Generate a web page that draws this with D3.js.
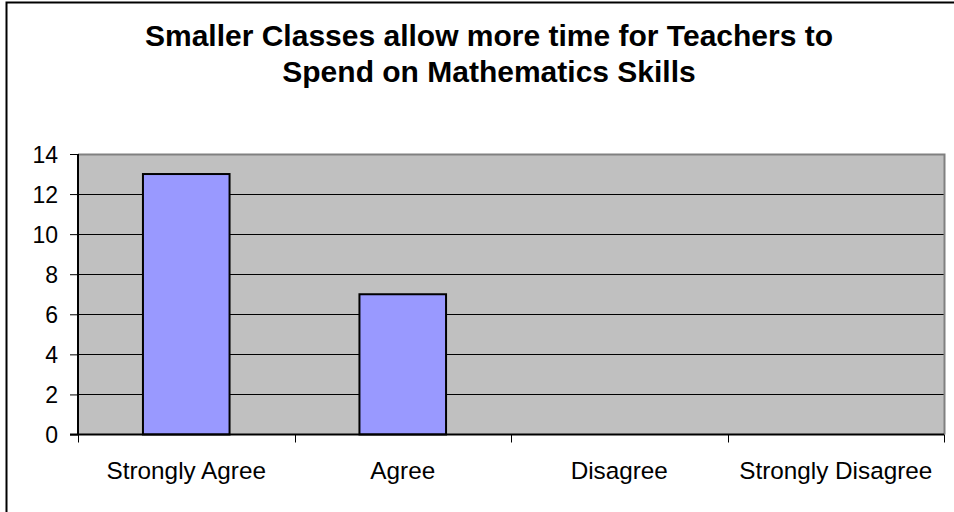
<!DOCTYPE html>
<html><head><meta charset="utf-8">
<script src="https://cdn.jsdelivr.net/npm/d3@7"></script>
<style>body{margin:0;background:#fff}svg{display:block}text{font-family:"Liberation Sans",Arial,sans-serif}</style>
</head><body>
<svg id="c" width="954" height="512"></svg>
<script>
const categories = ["Strongly Agree", "Agree", "Disagree", "Strongly Disagree"];
const values = [13, 7, 0, 0];
const yTicks = [0, 2, 4, 6, 8, 10, 12, 14];
const titleLines = ["Smaller Classes allow more time for Teachers to", "Spend on Mathematics Skills"];

const svg = d3.select("#c");
const L = 78, R = 944, T = 154, B = 434.5;

svg.append("rect").attr("x", 6.5).attr("y", 2.5).attr("width", 1000).attr("height", 600)
  .attr("fill", "#fff").attr("stroke", "#000").attr("stroke-width", 2);

const x = d3.scaleBand().domain(categories).range([L, R]).paddingInner(0).paddingOuter(0);
const y = d3.scaleLinear().domain([0, 14]).range([B, T]);

svg.append("rect").attr("x", L).attr("y", T).attr("width", R - L).attr("height", B - T).attr("fill", "#C0C0C0");

// gridlines
svg.append("g").selectAll("line").data(yTicks.filter(d => d > 0 && d < 14)).join("line")
  .attr("x1", L).attr("x2", R).attr("y1", d => Math.round(y(d)) + 0.5).attr("y2", d => Math.round(y(d)) + 0.5)
  .attr("stroke", "#000").attr("stroke-width", 1);

// plot border top/right
svg.append("path").attr("d", `M${L},${T + 0.5}H${R + 0.5}V${B}`).attr("fill", "none").attr("stroke", "#808080").attr("stroke-width", 2);

// bars
const bw = x.bandwidth() * 0.4;
svg.append("g").selectAll("rect").data(values.map((v, i) => ({c: categories[i], v})).filter(d => d.v > 0)).join("rect")
  .attr("x", d => x(d.c) + (x.bandwidth() - bw) / 2).attr("width", bw)
  .attr("y", d => y(d.v)).attr("height", d => y(0) - y(d.v))
  .attr("fill", "#9999FF").attr("stroke", "#000").attr("stroke-width", 2);

// y axis
const yAxis = d3.axisLeft(y).tickValues(yTicks).tickSize(8).tickPadding(12);
const gy = svg.append("g").attr("transform", `translate(${L},0)`).call(yAxis);
gy.select(".domain").attr("stroke", "#000").attr("stroke-width", 2).attr("d", `M0,${T}V${B}`);
gy.selectAll(".tick line").attr("stroke", "#000");
gy.selectAll(".tick text").attr("font-size", 23).attr("fill", "#000").attr("dy", "0.36em")
  .attr("font-family", "Liberation Sans, Arial, sans-serif");

// x axis
const gx = svg.append("g").attr("transform", `translate(0,${B})`);
gx.append("line").attr("x1", L - 8).attr("x2", R).attr("y1", 0).attr("y2", 0).attr("stroke", "#000").attr("stroke-width", 2);
const bounds = categories.map(c => x(c)).concat([R]);
gx.selectAll("line.tk").data(bounds).join("line").attr("class", "tk")
  .attr("x1", d => Math.round(d) + 0.5).attr("x2", d => Math.round(d) + 0.5).attr("y1", 0).attr("y2", 8).attr("stroke", "#000");
gx.selectAll("text").data(categories).join("text")
  .attr("x", d => x(d) + x.bandwidth() / 2).attr("y", 44).attr("text-anchor", "middle")
  .attr("font-size", 24.3).attr("fill", "#000").text(d => d);

// title
svg.append("g").selectAll("text").data(titleLines).join("text")
  .attr("x", 489).attr("y", (d, i) => 46 + i * 36).attr("text-anchor", "middle")
  .attr("font-size", 30).attr("font-weight", "bold").attr("fill", "#000").text(d => d);
</script>
</body></html>
